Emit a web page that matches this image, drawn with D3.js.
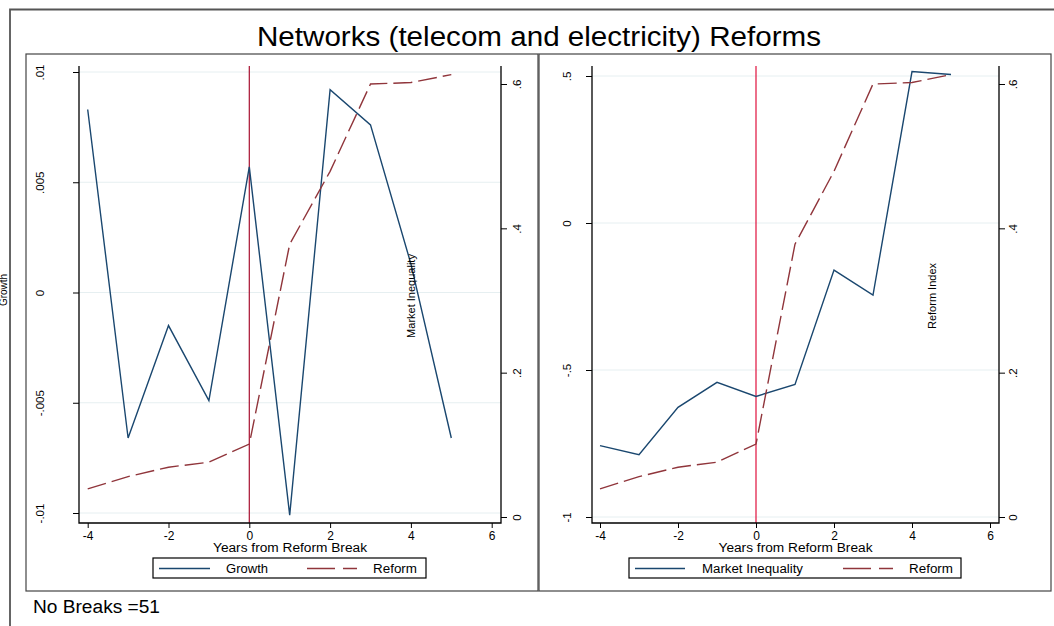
<!DOCTYPE html>
<html><head><meta charset="utf-8">
<script src="https://cdn.jsdelivr.net/npm/d3@7"></script>
<style>body{margin:0;background:#fff}svg text{font-family:"Liberation Sans",Arial,Helvetica,sans-serif;fill:#000}</style>
</head><body><svg id="c" width="1054" height="626"></svg>
<script>
// ---- data ----
const years=[-4,-3,-2,-1,0,1,2,3,4,5];
const growth=[0.0083,-0.0066,-0.0015,-0.0049,0.0057,-0.0101,0.0092,0.0076,0.0013,-0.0066];
const reform=[0.039,0.056,0.069,0.076,0.101,0.378,0.479,0.600,0.602,0.613];
const inequality=[-0.757,-0.788,-0.627,-0.542,-0.590,-0.549,-0.160,-0.245,0.515,0.505];
const xTicks=[-4,-2,0,2,4,6];
const growthTicks=[-0.01,-0.005,0,0.005,0.01];
const growthLabels=["-.01","-.005","0",".005",".01"];
const reformTicks=[0,0.2,0.4,0.6];
const reformLabels=["0",".2",".4",".6"];
const ineqTicks=[-1,-0.5,0,0.5];
const ineqLabels=["-1","-.5","0",".5"];
const titleText="Networks (telecom and electricity) Reforms";
const xTitleText="Years from Reform Break";
const noteText="No Breaks =51";

// ---- layout ----
const svg=d3.select("#c");
svg.append("rect").attr("width",1054).attr("height",626).attr("fill","#fff");
const BLUE="#1a476f", MAROON="#90353b", GRID="#e6eff1";

// outer frame
svg.append("path").attr("d","M10,640 V9.5 H1060").attr("fill","none").attr("stroke","#555").attr("stroke-width",1.8);

svg.append("text").attr("x",539).attr("y",46).attr("text-anchor","middle")
  .attr("textLength",564).attr("lengthAdjust","spacingAndGlyphs")
  .style("font-size","27px").text(titleText);
svg.append("text").attr("x",33).attr("y",613).attr("textLength",127).attr("lengthAdjust","spacingAndGlyphs")
  .style("font-size","18px").text(noteText);
svg.append("text").attr("transform","translate(7,290) rotate(-90)").attr("text-anchor","middle")
  .style("font-size","10px").text("Growth");

const panels=[
 {bx0:26,bx1:538,ax0:79,ax1:501,xr:[87.7,491.7],
  left:{vals:growth,dom:[-0.01,0.01],rng:[513,72],ticks:growthTicks,labels:growthLabels,labelX:40},
  rightLabelX:517,inner:"Market Inequality",innerX:411,vcolor:"#a8102f",
  leg:{x0:153,x1:426,s1:[159,210],t1:"Growth",t1x:226,t1w:42,s2:[307,357],t2x:373,t2w:44}},
 {bx0:539,bx1:1051,ax0:592,ax1:999,xr:[600,990],
  left:{vals:inequality,dom:[-1,0.5],rng:[517,76],ticks:ineqTicks,labels:ineqLabels,labelX:567},
  rightLabelX:1013,inner:"Reform Index",innerX:932,vcolor:"#e0103c",
  leg:{x0:629,x1:961,s1:[635,685],t1:"Market Inequality",t1x:702,t1w:101,s2:[843,893],t2x:909,t2w:44}}
];
const yTop=66,yBot=523;

panels.forEach(p=>{
  const g=svg.append("g");
  g.append("rect").attr("x",p.bx0).attr("y",54).attr("width",p.bx1-p.bx0).attr("height",537)
    .attr("fill","#fff").attr("stroke","#444").attr("stroke-width",1.2);
  const x=d3.scaleLinear().domain([-4,6]).range(p.xr);
  const yl=d3.scaleLinear().domain(p.left.dom).range(p.left.rng);
  const yr=d3.scaleLinear().domain([0,0.6]).range([517,84]);
  // grid
  g.selectAll("line.grid").data(p.left.ticks).enter().append("line")
    .attr("x1",p.ax0).attr("x2",p.ax1).attr("y1",d=>yl(d)).attr("y2",d=>yl(d))
    .attr("stroke",GRID).attr("stroke-width",1);
  // vertical line at 0
  g.append("line").attr("x1",x(0)).attr("x2",x(0)).attr("y1",yTop).attr("y2",yBot)
    .attr("stroke",p.vcolor).attr("stroke-width",1.2);
  // series
  const lineL=d3.line().x((d,i)=>x(years[i])).y(d=>yl(d));
  const lineR=d3.line().x((d,i)=>x(years[i])).y(d=>yr(d));
  g.append("path").attr("d",lineL(p.left.vals)).attr("fill","none").attr("stroke",BLUE).attr("stroke-width",1.4);
  g.append("path").attr("d",lineR(reform)).attr("fill","none").attr("stroke",MAROON).attr("stroke-width",1.4)
    .attr("stroke-dasharray","19,6");
  // axes
  const axL=g.append("g").attr("transform",`translate(${p.ax0},0)`)
    .call(d3.axisLeft(yl).tickValues(p.left.ticks).tickFormat((d,i)=>p.left.labels[i]).tickSize(6).tickSizeOuter(0));
  axL.select(".domain").remove();
  axL.selectAll("text").attr("x",0).attr("dy",null).attr("text-anchor","middle")
    .attr("transform",`translate(${p.left.labelX-p.ax0+4},0) rotate(-90)`).style("font-size","11.5px");
  const axR=g.append("g").attr("transform",`translate(${p.ax1},0)`)
    .call(d3.axisRight(yr).tickValues(reformTicks).tickFormat((d,i)=>reformLabels[i]).tickSize(6).tickSizeOuter(0));
  axR.select(".domain").remove();
  axR.selectAll("text").attr("x",0).attr("dy",null).attr("text-anchor","middle")
    .attr("transform",`translate(${p.rightLabelX-p.ax1+4},0) rotate(-90)`).style("font-size","11.5px");
  const axB=g.append("g").attr("transform",`translate(0,${yBot})`)
    .call(d3.axisBottom(x).tickValues(xTicks).tickFormat(d=>String(d)).tickSize(5).tickSizeOuter(0));
  axB.select(".domain").remove();
  axB.selectAll("text").attr("y",8).attr("dy","0.71em").style("font-size","12px");
  [axL,axR,axB].forEach(a=>{a.selectAll("line").attr("stroke","#000");a.attr("font-family",null).attr("font-size",null);});
  // axis lines
  g.append("path").attr("d",`M${p.ax0},${yTop} V${yBot} H${p.ax1} V${yTop}`)
    .attr("fill","none").attr("stroke","#000").attr("stroke-width",1.3);
  // titles
  g.append("text").attr("x",(p.ax0+p.ax1)/2).attr("y",552).attr("text-anchor","middle")
    .attr("textLength",154).attr("lengthAdjust","spacingAndGlyphs")
    .style("font-size","12.5px").text(xTitleText);
  g.append("text").attr("transform",`translate(${p.innerX+4},296) rotate(-90)`).attr("text-anchor","middle")
    .style("font-size","11px").text(p.inner);
  // legend
  const L=p.leg;
  g.append("rect").attr("x",L.x0).attr("y",558).attr("width",L.x1-L.x0).attr("height",20)
    .attr("fill","#fff").attr("stroke","#000").attr("stroke-width",1.2);
  g.append("line").attr("x1",L.s1[0]).attr("x2",L.s1[1]).attr("y1",568.5).attr("y2",568.5).attr("stroke",BLUE).attr("stroke-width",1.4);
  g.append("line").attr("x1",L.s2[0]).attr("x2",L.s2[1]).attr("y1",568.5).attr("y2",568.5).attr("stroke",MAROON).attr("stroke-width",1.4).attr("stroke-dasharray","28,8");
  g.append("text").attr("x",L.t1x).attr("y",573).attr("textLength",L.t1w).attr("lengthAdjust","spacingAndGlyphs")
    .style("font-size","12.5px").text(L.t1);
  g.append("text").attr("x",L.t2x).attr("y",573).attr("textLength",L.t2w).attr("lengthAdjust","spacingAndGlyphs")
    .style("font-size","12.5px").text("Reform");
});
</script></body></html>
